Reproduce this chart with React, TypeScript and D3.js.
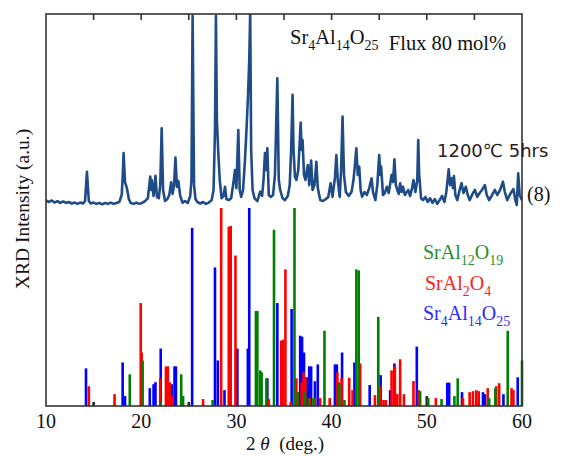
import React from "react";
import * as d3 from "d3";

const measured: [number, number][] = [
  [10.0, 0.8], [10.3, 0], [10.6, 0.8], [10.9, -0.3], [11.2, 0.5], [11.5, -0.5], [11.8, 0.3],
  [12.1, -0.5], [12.4, 0], [12.7, -0.8], [13.0, -0.3], [13.3, -1], [13.6, -0.3], [13.9, -0.8],
  [14.1, 0.5], [14.3, 16], [14.5, 0.5], [14.7, -0.8], [15.0, -0.3], [15.3, -1], [15.6, -0.5],
  [15.9, -1.3], [16.2, -0.5], [16.5, -1], [16.8, -0.3], [17.1, -1], [17.4, -0.5], [17.7, 0],
  [17.95, 3.7], [18.05, 12.8], [18.15, 26], [18.3, 10.6], [18.5, 7.4], [18.7, 1.6], [18.9, -0.5],
  [19.2, -1], [19.5, -0.3], [19.8, -1], [20.1, -0.5], [20.4, 0.5], [20.7, 2], [20.85, 9],
  [20.95, 13.5], [21.05, 6.4], [21.1, 11.7], [21.3, 3.2], [21.5, 14], [21.65, 2.7], [21.85, 2],
  [22.0, 9], [22.15, 39.2], [22.3, 6.4], [22.5, 0.5], [22.75, 1.6], [22.95, 3.7], [23.15, 10.5],
  [23.3, 4.3], [23.45, 9], [23.6, 23.6], [23.75, 8], [23.9, 11.2], [24.1, 3.2], [24.35, -0.4],
  [24.6, 0.5], [24.9, -0.5], [25.15, 3.2], [25.28, 11.7], [25.4, 99], [25.55, 9], [25.7, 1.6],
  [25.9, 0], [26.2, -0.8], [26.5, 0], [26.8, -1], [27.1, -0.3], [27.4, 1], [27.6, 6.4],
  [27.75, 38], [27.85, 99], [27.95, 43.6], [28.1, 26], [28.25, 11.7], [28.45, 2], [28.65, 3.2],
  [28.8, 8.1], [28.95, 1.6], [29.2, 1], [29.45, 2], [29.65, 9], [29.85, 17], [30.0, 7.4],
  [30.2, 38.3], [30.35, 6.4], [30.5, 2.7], [30.7, 6.4], [30.9, 22.3], [31.05, 37.4], [31.2, 54],
  [31.35, 75.5], [31.45, 101], [31.55, 27.7], [31.7, 6.4], [31.9, 2], [32.2, 0.5], [32.5, 5.5],
  [32.7, 3.2], [32.85, 11.7], [33.0, 26], [33.12, 17], [33.25, 28.6], [33.4, 3.7], [33.6, 2.7],
  [33.85, 3.7], [34.05, 14.4], [34.3, 65.8], [34.45, 11.7], [34.6, 6.4], [34.85, 2], [35.1, 1],
  [35.4, 3.2], [35.6, 9], [35.75, 27.7], [35.9, 57], [36.0, 27.7], [36.15, 13.5], [36.3, 11.7],
  [36.5, 17], [36.75, 42.2], [36.85, 27.7], [36.95, 33], [37.1, 14.4], [37.25, 11.7], [37.5, 19.7],
  [37.65, 9], [37.85, 22], [38.0, 6.4], [38.2, 9], [38.4, 21.4], [38.55, 7.4], [38.8, 1],
  [39.1, 0.5], [39.4, 1.6], [39.65, 2.7], [39.9, 10], [40.1, 2.7], [40.35, 12.8], [40.5, 25],
  [40.65, 11.7], [40.85, 2.7], [41.0, 17], [41.15, 45.4], [41.3, 14.4], [41.5, 5.3], [41.8, 3.2],
  [42.1, 5.5], [42.3, 11.7], [42.45, 19.7], [42.6, 28.6], [42.75, 14.4], [42.9, 18.8], [43.05, 6.4],
  [43.2, 2.8], [43.45, 5.3], [43.7, 3.7], [43.95, 7.4], [44.2, 12.6], [44.35, 5.3], [44.6, 1],
  [44.8, 9], [45.0, 25], [45.12, 14.4], [45.2, 18.8], [45.4, 3.7], [45.6, 4.8], [45.8, 8.1],
  [46.0, 4.8], [46.3, 14.4], [46.45, 10.6], [46.6, 22.7], [46.75, 9], [46.9, 6.4], [47.05, 4.3],
  [47.2, 10], [47.35, 5.3], [47.5, 8.1], [47.7, 3.7], [47.9, 5.3], [48.05, 6.4], [48.25, 3.2],
  [48.45, 7.4], [48.6, 11.7], [48.8, 5.3], [49.0, 11.7], [49.1, 33], [49.2, 14.4], [49.4, 2],
  [49.6, 1], [49.85, 2.7], [50.1, 0], [50.35, 2], [50.6, -0.5], [50.85, 1.6], [51.1, -1],
  [51.35, 1], [51.6, 3.2], [51.85, 0], [52.05, 5.3], [52.3, 17.4], [52.45, 9], [52.6, 12.6],
  [52.75, 7.4], [52.85, 13.8], [53.0, 3.7], [53.2, 1], [53.45, 6.4], [53.65, 10], [53.85, 4.8],
  [54.1, 8.1], [54.3, 3.7], [54.5, 1], [54.8, 4.3], [55.05, 6.4], [55.3, 2.7], [55.55, 4.8],
  [55.8, 6.4], [56.1, 9], [56.3, 3.7], [56.55, 1], [56.8, 3.2], [57.15, 6.4], [57.4, 3.7],
  [57.7, 6.4], [58.0, 10.8], [58.2, 5.3], [58.45, 1], [58.7, 3.7], [58.9, 5.3], [59.1, 6.9],
  [59.3, 1], [59.45, -1.6], [59.6, 15.3], [59.75, 3.7], [60.0, 1],
];

// reference stick patterns, [2theta, relative intensity]
const sr4al14o25: [number, number][] = [
  [14.2, 19], [18.05, 22], [18.3, 5], [20.9, 9], [21.3, 11], [21.5, 12], [22.05, 29], [23.2, 11],
  [23.5, 20], [23.65, 20], [25.35, 90], [27.75, 70], [28.05, 23], [28.75, 8], [30.1, 29], [31.2, 29],
  [31.35, 100], [33.25, 14], [34.3, 52], [35.8, 49], [36.7, 35.5], [36.9, 35], [37.1, 27],
  [37.4, 14.5], [37.65, 20], [37.85, 20], [38.25, 12.5], [38.55, 21], [40.35, 21], [40.55, 21],
  [41.1, 27], [42.4, 22], [44.0, 10.6], [45.15, 15.6], [46.15, 8], [46.6, 21.5], [48.95, 30],
  [52.15, 11.8], [52.35, 11.8], [53.7, 7], [55.9, 7], [56.1, 6], [58.05, 6], [59.55, 14.5],
];
const sral2o4: [number, number][] = [
  [14.5, 10], [17.2, 6], [19.95, 52], [20.05, 27], [22.0, 14], [22.6, 20], [22.8, 20], [23.0, 12],
  [23.3, 5], [26.5, 3.5], [28.4, 100], [29.2, 90.5], [29.4, 91], [29.9, 76], [33.4, 3.5], [34.7, 33],
  [34.9, 33.5], [35.15, 69], [35.7, 2], [36.3, 14], [36.85, 12], [37.05, 17], [37.25, 14.5],
  [37.7, 4], [38.25, 4], [38.8, 4], [39.8, 4], [40.6, 17], [40.8, 12], [41.05, 14], [41.85, 14.3],
  [42.2, 8], [43.0, 21.5], [44.55, 5.5], [45.1, 10], [45.45, 3], [45.7, 3], [46.3, 18], [46.65, 20],
  [46.9, 6], [47.2, 23.6], [47.6, 6], [48.6, 12.6], [49.15, 8], [50.95, 4], [53.8, 4], [54.5, 7],
  [54.85, 7.5], [55.2, 8], [55.45, 7.5], [56.4, 9], [57.3, 10], [57.6, 11.5], [58.9, 9], [59.1, 8],
];
const sral12o19: [number, number][] = [
  [18.8, 16], [20.15, 23], [22.05, 2], [24.2, 16], [24.4, 5], [27.5, 3], [32.05, 48], [32.2, 48],
  [32.5, 18], [32.65, 17], [33.15, 14], [33.95, 89], [36.1, 100], [36.45, 7], [37.2, 7], [37.6, 4],
  [38.1, 4], [39.25, 38], [40.8, 11], [41.35, 3], [42.6, 69], [42.85, 68.5], [44.9, 45], [49.3, 7.5],
  [50.15, 4], [51.55, 3.5], [52.9, 5], [53.25, 14], [56.55, 4], [57.2, 9], [58.5, 38], [60.0, 23],
];
const otherSticks: [number, number][] = [[15.0, 2], [25.0, 2], [50.0, 5]];

const xTicks = [10, 20, 30, 40, 50, 60];
const topTicks = [15, 20, 25, 30, 35, 40, 45, 50, 55];

const SERIF = "'Liberation Serif', 'Times New Roman', serif";

// digits become subscripts
const Formula = ({ text, size, sub }: { text: string; size: number; sub: number }) => {
  const parts = text.match(/[0-9]+|[^0-9]+/g) || [];
  const shift = size * 0.28;
  let lowered = false;
  return (
    <>
      {parts.map((p, i) => {
        const isSub = /[0-9]/.test(p);
        let dy = 0;
        if (isSub && !lowered) { dy = shift; lowered = true; }
        else if (!isSub && lowered) { dy = -shift; lowered = false; }
        return (
          <tspan key={i} dy={dy} fontSize={isSub ? sub : size}>{p}</tspan>
        );
      })}
      {lowered ? <tspan dy={-shift}>{""}</tspan> : null}
    </>
  );
};

const App = () => {
  const W = 564;
  const H = 456;
  const left = 46, right = 522, top = 14, bottom = 406;

  const x = d3.scaleLinear().domain([10, 60]).range([left, right]);
  const yCurve = d3.scaleLinear().domain([0, 100]).range([202, top]);
  const yStick = d3.scaleLinear().domain([0, 100]).range([bottom, 208]);

  const line = d3
    .line<[number, number]>()
    .x((d) => x(d[0]))
    .y((d) => yCurve(d[1]));

  const sticks = (data: [number, number][], color: string) =>
    data.map((d, i) => (
      <rect
        key={color + i}
        x={x(d[0]) - 1.3}
        y={yStick(d[1])}
        width={2.6}
        height={bottom - yStick(d[1])}
        fill={color}
      />
    ));

  return (
    <svg width={W} height={H} style={{ position: "absolute", left: 0, top: 0, background: "#fff" }}>
      <defs>
        <clipPath id="plotArea">
          <rect x={left} y={top} width={right - left} height={bottom - top} />
        </clipPath>
      </defs>

      {/* reference sticks */}
      <g>
        {sticks(otherSticks, "#222")}
        {sticks(sr4al14o25, "#0000ff")}
        {sticks(sral2o4, "#ff0000")}
        {sticks(sral12o19, "#008000")}
      </g>

      {/* measured pattern */}
      <path
        d={line(measured) || ""}
        fill="none"
        stroke="#1f4c86"
        strokeWidth={2.6}
        strokeLinejoin="round"
        clipPath="url(#plotArea)"
      />

      {/* frame */}
      <rect x={left} y={top} width={right - left} height={bottom - top} fill="none" stroke="#333" strokeWidth={1.6} />
      {topTicks.map((t) => (
        <line key={t} x1={x(t)} x2={x(t)} y1={top} y2={top + 6} stroke="#333" strokeWidth={1.6} />
      ))}

      {/* x axis labels */}
      {xTicks.map((t) => (
        <text key={t} x={x(t)} y={428} textAnchor="middle" fontFamily={SERIF} fontSize={20} fill="#111">
          {t}
        </text>
      ))}
      <text x={285} y={450} textAnchor="middle" fontFamily={SERIF} fontSize={19} fill="#111" style={{ whiteSpace: "pre" }}>
        {"2 "}
        <tspan fontStyle="italic">θ</tspan>
        {"  (deg.)"}
      </text>

      {/* y axis label */}
      <text
        transform="translate(29,209) rotate(-90)"
        textAnchor="middle"
        fontFamily={SERIF}
        fontSize={19.5}
        fill="#111"
      >
        XRD Intensity (a.u.)
      </text>

      {/* annotations */}
      <text x={290} y={44} fontFamily={SERIF} fontSize={20.5} fill="#111" style={{ whiteSpace: "pre" }}>
        <Formula text="Sr4Al14O25" size={20.5} sub={14} />
        <tspan>{"  Flux 80 mol%"}</tspan>
      </text>
      <text x={437} y={157} fontFamily="'DejaVu Sans', sans-serif" fontSize={18} fill="#2a1a1a">
        1200℃ 5hrs
      </text>
      <text x={527} y={201} fontFamily={SERIF} fontSize={20} fill="#111">
        (8)
      </text>

      {/* legend */}
      <text x={423} y={259} fontFamily={SERIF} fontSize={20} fill="#2e8b2e">
        <Formula text="SrAl12O19" size={20} sub={14} />
      </text>
      <text x={425} y={290} fontFamily={SERIF} fontSize={20} fill="#ff2020">
        <Formula text="SrAl2O4" size={20} sub={14} />
      </text>
      <text x={423} y={320} fontFamily={SERIF} fontSize={20} fill="#2b2bff">
        <Formula text="Sr4Al14O25" size={20} sub={14} />
      </text>
    </svg>
  );
};

export default App;
